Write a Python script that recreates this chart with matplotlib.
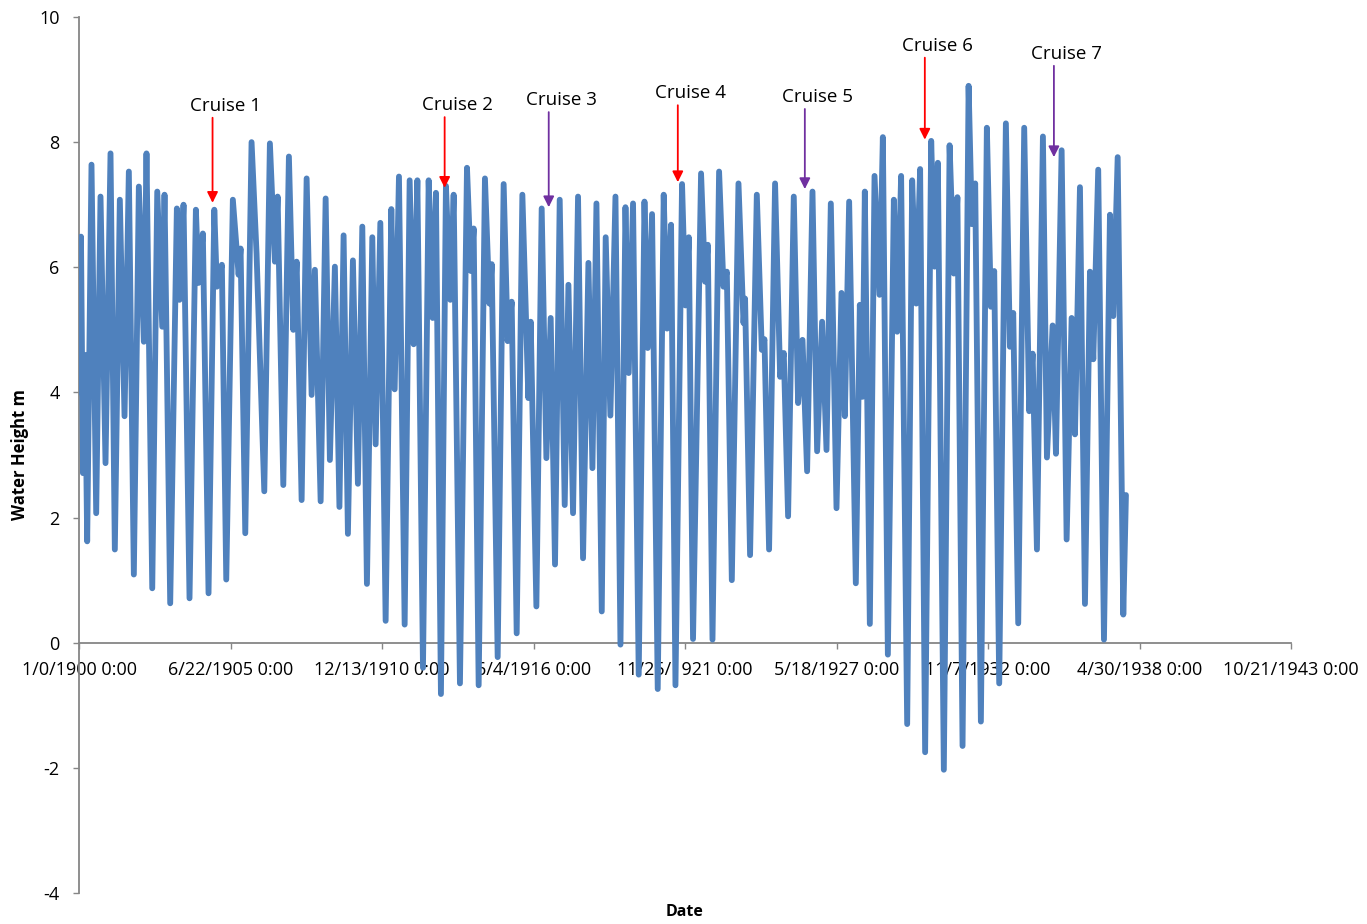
import matplotlib
matplotlib.use('Agg')
import matplotlib.pyplot as plt

# Tide record, turning points (x = Excel day serial, y = metres)
DAYS = [0, 26, 53, 79, 108, 165, 227, 284, 350, 416, 473, 539, 601, 658, 724, 790, 856, 891,
        967, 1033, 1099, 1129, 1204, 1292, 1327, 1380, 1459, 1543, 1578, 1635, 1710, 1786,
        1820, 1886, 1944, 2031, 2107, 2133, 2195, 2278, 2344, 2446, 2520, 2586, 2622, 2697,
        2771, 2829, 2873, 2939, 3005, 3071, 3114, 3190, 3256, 3312, 3378, 3438, 3493, 3550,
        3616, 3682, 3740, 3801, 3872, 3916, 3978, 4048, 4123, 4167, 4224, 4299, 4365, 4418,
        4467, 4541, 4616, 4669, 4712, 4778, 4844, 4902, 4946, 5029, 5122, 5174, 5210, 5276,
        5359, 5418, 5448, 5527, 5606, 5659, 5712, 5778, 5853, 5932, 5963, 6038, 6108, 6170,
        6227, 6284, 6346, 6412, 6461, 6522, 6588, 6654, 6725, 6778, 6831, 6901, 6953, 7015,
        7082, 7148, 7214, 7257, 7314, 7389, 7465, 7508, 7565, 7640, 7719, 7763, 7816, 7874,
        7961, 8006, 8050, 8106, 8212, 8265, 8301, 8363, 8450, 8508, 8552, 8618, 8706, 8772,
        8793, 8859, 8948, 9014, 9049, 9110, 9189, 9256, 9304, 9361, 9436, 9493, 9551, 9612,
        9683, 9744, 9810, 9868, 9925, 10000, 10066, 10110, 10167, 10255, 10308, 10344, 10374,
        10440, 10502, 10568, 10612, 10678, 10757, 10801, 10853, 10933, 10999, 11052, 11104,
        11170, 11250, 11295, 11338, 11417, 11493, 11549, 11596, 11664, 11744, 11787, 11831,
        11906, 11985, 12038, 12082, 12148, 12236, 12289, 12333, 12399, 12478, 12544, 12589,
        12646, 12725, 12778, 12853, 12897, 12972, 13038, 13104, 13148, 13214, 13280, 13346,
        13390, 13455, 13531, 13610, 13654, 13712, 13786, 13821]

HEIGHT = [4.0, 6.49, 2.71, 4.6, 1.62, 7.64, 2.07, 7.13, 2.87, 7.82, 1.49, 7.08, 3.62, 7.53,
          1.09, 7.29, 4.81, 7.82, 0.87, 7.21, 5.05, 7.16, 0.63, 6.94, 5.48, 7.00, 0.71, 6.92,
          5.75, 6.54, 0.79, 6.92, 5.69, 6.04, 1.01, 7.08, 5.88, 6.3, 1.75, 8.00, 6.22, 2.42,
          7.98, 6.09, 7.13, 2.52, 7.77, 5.00, 6.09, 2.28, 7.42, 3.96, 5.96, 2.26, 7.10, 2.92,
          6.01, 2.17, 6.51, 1.74, 6.11, 2.54, 6.65, 0.94, 6.48, 3.17, 6.71, 0.35, 6.93, 4.05,
          7.45, 0.29, 7.39, 4.77, 7.39, -0.40, 7.39, 5.19, 7.19, -0.82, 7.30, 5.48, 7.16,
          -0.65, 7.59, 5.94, 6.62, -0.68, 7.42, 5.42, 6.05, -0.23, 7.33, 4.82, 5.45, 0.15,
          7.16, 3.91, 5.13, 0.58, 6.94, 2.95, 5.19, 1.25, 7.08, 2.20, 5.72, 2.07, 7.13, 1.35,
          6.07, 2.79, 7.02, 0.50, 6.48, 3.63, 7.13, -0.03, 6.96, 4.31, 7.02, -0.51, 7.05,
          4.71, 6.85, -0.74, 7.16, 5.02, 6.68, -0.68, 7.33, 5.39, 6.48, 0.06, 7.50, 5.77,
          6.36, 0.05, 7.53, 5.69, 5.93, 1.0, 7.34, 5.11, 5.5, 1.4, 7.16, 4.68, 4.85, 1.49,
          7.34, 4.25, 4.63, 2.02, 7.13, 3.83, 4.84, 2.74, 7.21, 3.06, 5.13, 3.08, 7.02, 2.15,
          5.59, 3.62, 7.05, 0.95, 5.40, 3.93, 7.21, 0.3, 7.46, 5.56, 8.08, -0.19, 7.08, 4.97,
          7.46, -1.30, 7.39, 5.42, 7.57, -1.75, 8.02, 6.01, 7.67, -2.03, 7.95, 5.90, 7.12,
          -1.65, 8.90, 6.69, 7.34, -1.26, 8.23, 5.37, 5.94, -0.65, 8.30, 4.73, 5.27, 0.31,
          8.23, 3.70, 4.62, 1.49, 8.09, 2.96, 5.07, 3.02, 7.87, 1.65, 5.19, 3.33, 7.28, 0.62,
          5.93, 4.53, 7.56, 0.05, 6.84, 5.22, 7.76, 0.45, 2.36]

# Axis ticks (Excel serial dates)
X_TICKS = [0, 2000, 4000, 6000, 8000, 10000, 12000, 14000, 16000]
X_TICK_LABELS = ['1/0/1900 0:00', '6/22/1905 0:00', '12/13/1910 0:00', '6/4/1916 0:00',
                 '11/25/1921 0:00', '5/18/1927 0:00', '11/7/1932 0:00', '4/30/1938 0:00',
                 '10/21/1943 0:00']
Y_TICKS = [-4, -2, 0, 2, 4, 6, 8, 10]

# Cruise markers: date, water level the arrow points at, label level
CRUISE_LABELS = ['Cruise 1', 'Cruise 2', 'Cruise 3', 'Cruise 4', 'Cruise 5', 'Cruise 6', 'Cruise 7']
CRUISE_DAYS = [1763, 4827, 6201, 7905, 9582, 11166, 12870]
CRUISE_TIP = [7.03, 7.27, 6.96, 7.36, 7.25, 8.04, 7.76]
CRUISE_TAIL = [8.39, 8.40, 8.48, 8.59, 8.53, 9.35, 9.22]
CRUISE_COLORS = ['#FF0000', '#FF0000', '#7030A0', '#FF0000', '#7030A0', '#FF0000', '#7030A0']

LINE_COLOR = '#4F81BD'
AXIS_GREY = '#868686'

plt.rcParams['font.family'] = ['Open Sans', 'DejaVu Sans']

fig = plt.figure(figsize=(13.67, 9.24), dpi=100)
ax = fig.add_axes([79 / 1367, 1 - 893 / 924, (1291 - 79) / 1367, (893 - 17) / 924])

ax.plot(DAYS, HEIGHT, color=LINE_COLOR, linewidth=4.2, solid_joinstyle='round',
        solid_capstyle='round', zorder=3)

for lab, d, tip, tail, col in zip(CRUISE_LABELS, CRUISE_DAYS, CRUISE_TIP, CRUISE_TAIL, CRUISE_COLORS):
    ax.annotate('', xy=(d, tip), xytext=(d, tail),
                arrowprops=dict(arrowstyle='-|>', color=col, lw=1.3,
                                mutation_scale=16, shrinkA=0, shrinkB=0), zorder=4)
    ax.annotate(lab, xy=(d, tail), xytext=(9, 2), textcoords='offset points',
                ha='center', va='bottom', fontsize=13.5, color='black', zorder=5)

ax.set_xlim(0, 16000)
ax.set_ylim(-4, 10)
ax.set_xticks(X_TICKS)
ax.set_xticklabels(X_TICK_LABELS)
ax.set_yticks(Y_TICKS)
ax.set_yticklabels([str(v) for v in Y_TICKS])

ax.spines['top'].set_visible(False)
ax.spines['right'].set_visible(False)
ax.spines['bottom'].set_position(('data', 0))
ax.spines['bottom'].set_color(AXIS_GREY)
ax.spines['left'].set_color(AXIS_GREY)
ax.spines['bottom'].set_linewidth(1.3)
ax.spines['left'].set_linewidth(1.3)
ax.spines['bottom'].set_zorder(1)

ax.tick_params(axis='both', colors=AXIS_GREY, labelcolor='black', labelsize=13,
               length=4, width=1.0, direction='out')
ax.tick_params(axis='x', pad=9)
ax.tick_params(axis='y', pad=10)

ax.set_xlabel('Date', fontsize=11.5, fontweight='bold')
ax.xaxis.set_label_coords(0.5, -0.012)
ax.set_ylabel('Water Height m', fontsize=12, fontweight='bold')
ax.yaxis.set_label_coords(-0.041, 0.5)

ax.patch.set_visible(False)
fig.savefig('out.png', dpi=100, facecolor='white')
